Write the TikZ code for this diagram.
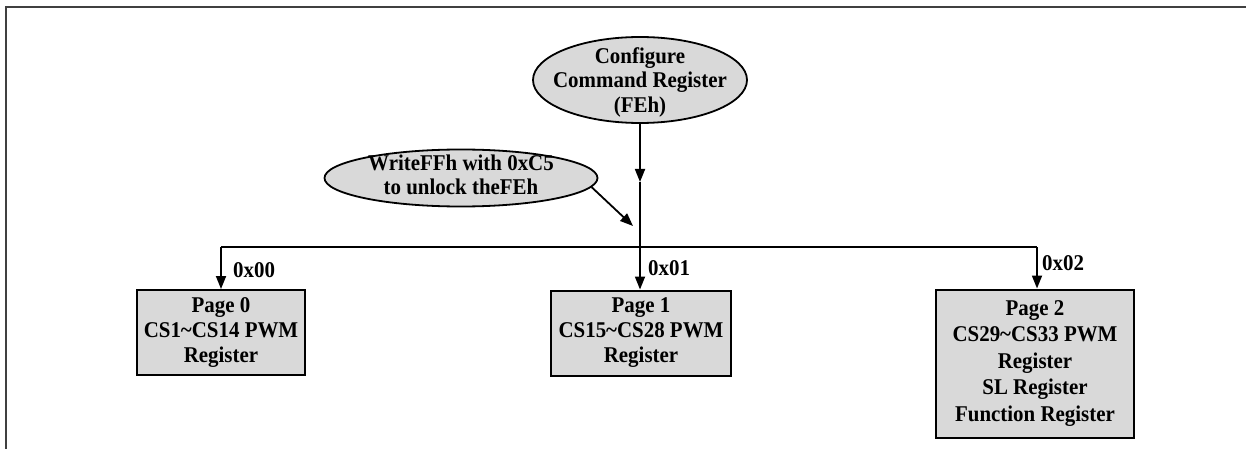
\documentclass[tikz,border=0pt]{standalone}
\usepackage{fontspec}
\setmainfont[FakeStretch=0.93]{Liberation Serif}
\usetikzlibrary{shapes.geometric,arrows.meta}
\definecolor{boxgray}{HTML}{D9D9D9}
\definecolor{framegray}{HTML}{404040}
\tikzset{
  lbl/.style={font=\bfseries\fontsize{22.5}{25}\selectfont, inner sep=0pt},
  txt/.style={font=\bfseries\fontsize{22.5}{24.5}\selectfont, align=center, inner sep=0pt},
  oval/.style={ellipse, draw=black, line width=1.8pt, fill=boxgray, inner sep=0pt},
  pagebox/.style={rectangle, draw=black, line width=2pt, fill=boxgray, inner sep=0pt, align=center},
  conn/.style={line width=1.8pt, draw=black},
  arr/.style={conn, -{Triangle[length=13pt,width=10pt]}},
}
\begin{document}
\begin{tikzpicture}[x=1pt,y=-1pt]
\useasboundingbox (0,0) rectangle (1246,449);
\fill[white] (0,0) rectangle (1246,449);
% frame
\draw[framegray, line width=1.5pt] (6,449) -- (6,7) -- (1246,7);

% ellipses
\node[oval, minimum width=214pt, minimum height=86pt] (cfg) at (640,80) {};
\node[txt] (cfgt) at (640,82) {Configure\\Command Register\\(FEh)};
\node[oval, minimum width=273pt, minimum height=57pt] (wr) at (461,178) {};
\node[txt, font=\bfseries\fontsize{22.5}{24}\selectfont] (wrt) at (461,175) {WriteFFh with 0xC5\\to unlock theFEh};

% boxes
\node[pagebox, minimum width=168pt, minimum height=85pt, font=\bfseries\fontsize{22.5}{25}\selectfont] (p0) at (221,332.5) {Page 0\\CS1\char`~CS14 PWM\\Register};
\node[pagebox, minimum width=180pt, minimum height=85pt, font=\bfseries\fontsize{22.5}{25}\selectfont] (p1) at (641,333) {Page 1\\CS15\char`~CS28 PWM\\Register};
\node[pagebox, minimum width=198pt, minimum height=148pt, font=\bfseries\fontsize{22.5}{26.5}\selectfont] (p2) at (1035,363.5) {Page 2\\CS29\char`~CS33 PWM\\Register\\SL Register\\Function Register};

% coordinates
\coordinate (mid) at (640,182);
\coordinate (jc) at (640,247);
\coordinate (jl) at (221,247);
\coordinate (jr) at (1037,247);
\coordinate (tip) at (633,226);

% connectors
\draw[arr] (cfg.south) -- (mid);
\draw[conn] (mid) -- (jc);
\draw[arr] (wr.-4) -- (tip);
\draw[conn] (jl) -- (jr);
\draw[arr] (jl) -- (jl |- p0.north);
\draw[arr] (jc) -- (jc |- p1.north);
\draw[arr] (jr) -- (jr |- p2.north);

% labels
\node[lbl, anchor=west] (l0) at (233,270) {0x00};
\node[lbl, anchor=west] (l1) at (648,268) {0x01};
\node[lbl, anchor=west] (l2) at (1042,263) {0x02};
\end{tikzpicture}
\end{document}
